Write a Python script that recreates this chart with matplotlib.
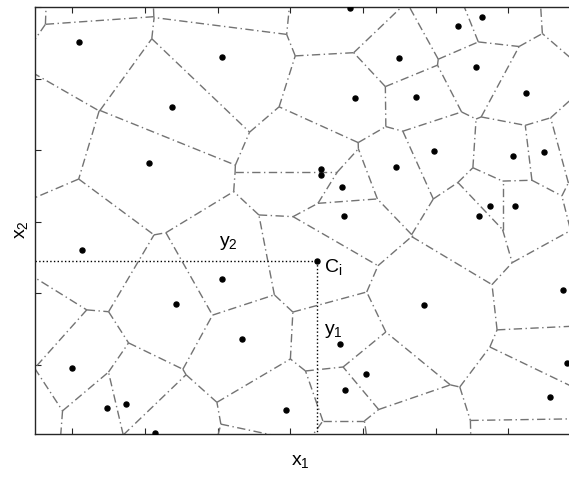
import numpy as np
import matplotlib
matplotlib.use("Agg")
import matplotlib.pyplot as plt

plt.rcParams['font.family'] = ['Liberation Sans', 'DejaVu Sans']
plt.rcParams['mathtext.default'] = 'regular'

# visible sites (data units)
site_x = [1.10, 3.06, 2.38, 2.06, 1.14, 3.06, 2.43, 3.34, 1.00, 1.48, 1.74, 2.14, 3.94,
          4.43, 4.43, 4.71, 4.74, 4.37, 4.69, 4.76, 5.04,
          4.82, 4.89, 5.50, 5.73, 6.31, 6.64, 6.56, 7.24,
          5.98, 5.46, 7.07, 7.49, 6.75, 7.09, 6.60,
          5.84, 7.75, 7.80, 7.57]
site_y = [5.51, 5.30, 4.60, 3.82, 2.60, 2.20, 1.85, 1.36, 0.95, 0.39, 0.45, 0.04, 0.36,
          3.73, 3.65, 3.48, 3.08, 2.45, 1.29, 0.64, 0.87,
          5.99, 4.73, 5.29, 4.74, 5.73, 5.86, 5.16, 4.80,
          3.99, 3.76, 3.92, 3.97, 3.22, 3.22, 3.08,
          1.83, 2.04, 1.02, 0.55]

# sites lying outside the visible window (estimated)
hidden_x = [0.40, 1.06, 3.17, 7.90, 7.58, 0.27, 8.26, 8.37, 4.76, 0.42,
            3.78, 5.39, 0.23]
hidden_y = [4.31, 6.07, 6.15, 4.08, -0.08, 0.48, 5.96, 3.54, -0.22, 1.46,
            -0.38, -0.13, 6.10]

ci_x, ci_y = 4.37, 2.45
xlim = (0.49, 8.26)
ylim = (0.028, 6.0)


def clip(poly, labels, a, b, c, lab):
    # keep a*x + b*y <= c ; labels[k] is the neighbour across edge k->k+1
    out, outl = [], []
    n = len(poly)
    for k in range(n):
        p, q = poly[k], poly[(k + 1) % n]
        lp = labels[k]
        fp = a * p[0] + b * p[1] - c
        fq = a * q[0] + b * q[1] - c
        if fp <= 0:
            out.append(p)
            if fq <= 0:
                outl.append(lp)
            else:
                t = fp / (fp - fq)
                out.append((p[0] + t * (q[0] - p[0]), p[1] + t * (q[1] - p[1])))
                outl.append(lp)
                outl.append(lab)
        else:
            if fq <= 0:
                t = fp / (fp - fq)
                out.append((p[0] + t * (q[0] - p[0]), p[1] + t * (q[1] - p[1])))
                outl.append(lp)
    return out, outl


def voronoi_edges(xs, ys):
    pts = np.column_stack([xs, ys])
    n = len(pts)
    B = 100.0
    segs = []
    for i in range(n):
        poly = [(-B, -B), (B, -B), (B, B), (-B, B)]
        labels = [-1, -1, -1, -1]
        for j in range(n):
            if j == i:
                continue
            d = pts[j] - pts[i]
            m = (pts[j] + pts[i]) / 2
            poly, labels = clip(poly, labels, d[0], d[1], d @ m, j)
            if not poly:
                break
        for k in range(len(poly)):
            if labels[k] > i:
                segs.append((poly[k], poly[(k + 1) % len(poly)]))
    return segs


fig = plt.figure(figsize=(5.69, 4.83), dpi=100)
ax = fig.add_axes([35 / 569, 49 / 483, 565 / 569, 427 / 483])

all_x = site_x + hidden_x
all_y = site_y + hidden_y
for p, q in voronoi_edges(all_x, all_y):
    ax.plot([p[0], q[0]], [p[1], q[1]], color='0.45', lw=1.0,
            dashes=(6, 2.5, 1, 2.5))

ax.plot(site_x, site_y, 'o', color='black', ms=3.6, zorder=5)

ax.plot([xlim[0], ci_x], [ci_y, ci_y], ':', color='black', lw=1.0)
ax.plot([ci_x, ci_x], [ci_y, ylim[0]], ':', color='black', lw=1.0)

fs = 14
ax.text(3.15, 2.70, '$y_2$', fontsize=fs, ha='center', va='center')
ax.text(4.47, 2.36, '$C_i$', fontsize=fs, ha='left', va='center')
ax.text(4.47, 1.47, '$y_1$', fontsize=fs, ha='left', va='center')

fig.text(300 / 569, 1 - 462 / 483, '$x_1$', fontsize=fs, ha='center', va='center')
fig.text(21 / 569, 1 - 230 / 483, '$x_2$', fontsize=fs, ha='center', va='center',
         rotation=90)

ax.set_xlim(*xlim)
ax.set_ylim(*ylim)
ax.set_xticks(range(1, 9))
ax.set_yticks(range(1, 7))
ax.tick_params(direction='in', length=4, top=True, right=True,
               labelbottom=False, labelleft=False, color='0.15')
for s in ax.spines.values():
    s.set_color('0.15')
    s.set_linewidth(1.0)

fig.savefig('out.png', dpi=100)
